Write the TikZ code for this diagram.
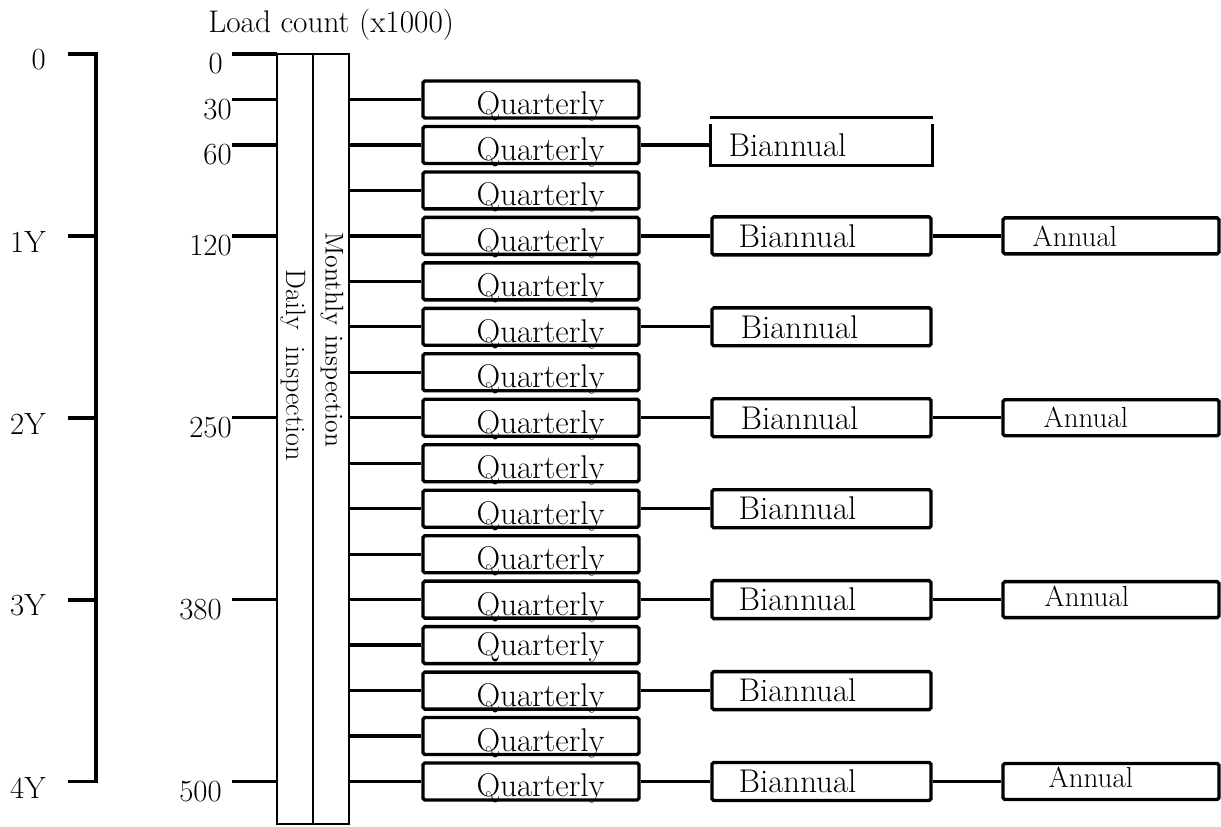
\documentclass[tikz,border=0pt]{standalone}
\usetikzlibrary{positioning}

\tikzset{
  txt/.style={font=\fontsize{18.7}{22}\selectfont, inner sep=0pt},
  num/.style={font=\fontsize{17.5}{21}\selectfont, inner sep=0pt},
  small/.style={font=\fontsize{16.5}{19}\selectfont},
  vtxt/.style={inner sep=0pt, rotate=-90},
  bar/.style={line width=2.2pt},
  link/.style={line width=1.9pt},
  col/.style={line width=1.5pt},
  quarter/.style={draw, line width=1.9pt, rounded corners=1pt, minimum width=4.32cm, minimum height=0.74cm, inner sep=0pt},
  half/.style={draw, line width=1.9pt, rounded corners=1pt, minimum width=4.38cm, minimum height=0.76cm, inner sep=0pt},
  halfopen/.style={line width=1.9pt, minimum width=4.38cm, minimum height=0.76cm, inner sep=0pt},
  annual/.style={draw, line width=1.9pt, rounded corners=1pt, minimum width=4.32cm, minimum height=0.72cm, inner sep=0pt}
}

\begin{document}
\begin{tikzpicture}[x=0.02cm, y=-0.02cm]
\useasboundingbox (0,0) rectangle (1221,826);

% time axis
\foreach \k/\lab in {0/0,4/1Y,8/2Y,12/3Y,16/4Y} {
  \pgfmathsetmacro\yy{54+45.47*\k}
  \coordinate (yl\k) at (68,\yy);
  \coordinate (yr\k) at (96,\yy);
  \node[num, anchor=east, yshift=-0.12cm] (ylab\k) at (46,\yy) {\lab};
}
\draw[bar] (yl0) -- (yr0) -- (yr16) -- (yl16);
\foreach \k in {4,8,12} \draw[bar] (yl\k) -- (yr\k);

% load count axis
\node[inner sep=0pt, font=\fontsize{17.8}{21}\selectfont, anchor=west] (title) at (208,25) {Load count (x1000)};
\foreach \k/\lab/\lx in {0/0/223, 1/30/232, 2/60/232, 4/120/232, 8/250/232, 12/380/222, 16/500/222} {
  \pgfmathsetmacro\yy{54+45.47*\k}
  \coordinate (ll\k) at (232,\yy);
  \coordinate (lr\k) at (277,\yy);
  \draw[link] (ll\k) -- (lr\k);
  \node[num, anchor=east, yshift=-0.2cm] (llab\k) at (\lx,\yy) {\lab};
}

% daily / monthly columns
\draw[col] (277,54) rectangle (313,824);
\draw[col] (313,54) rectangle (349,824);
\node[vtxt, font=\fontsize{16}{19}\selectfont] (daily) at (293,365) {Daily\hspace{0.6em}inspection};
\node[vtxt, font=\fontsize{14.6}{17}\selectfont] (monthly) at (332,340) {Monthly\hspace{0.4em}inspection};

% quarterly
\foreach \i in {1,...,16} {
  \pgfmathsetmacro\yy{54+45.47*\i}
  \coordinate (m\i) at (349,\yy);
  \node[quarter] (q\i) at (531,\yy) {};
  \draw[link] (m\i) -- (q\i.west);
  \ifnum\i=13 \def\qs{-0.036cm}\else\def\qs{-0.146cm}\fi
  \node[txt, right=1.1cm of q\i.west, yshift=\qs] (qt\i) {Quarterly};
}

% biannual
\foreach \i/\pad/\sty in {2/0.36cm/halfopen, 4/0.56cm/half, 6/0.6cm/half, 8/0.6cm/half,
                          10/0.56cm/half, 12/0.56cm/half, 14/0.56cm/half, 16/0.56cm/half} {
  \pgfmathsetmacro\yy{54+45.47*\i}
  \node[\sty] (b\i) at (821.5,\yy) {};
  \draw[link] (q\i.east) -- (b\i.west);
  \node[txt, right=\pad of b\i.west] (bt\i) {Biannual};
}
\draw[link] (b2.north west) -- (b2.south west) -- (b2.south east) -- (b2.north east);
\draw[link] ([yshift=0.13cm]b2.north west) -- ([yshift=0.13cm]b2.north east);

% annual
\foreach \i/\pad/\up in {4/0.62cm/0cm, 8/0.84cm/0cm, 12/0.86cm/0.06cm, 16/0.94cm/0.08cm} {
  \pgfmathsetmacro\yy{54+45.47*\i}
  \node[annual] (a\i) at (1111,\yy) {};
  \draw[link] (b\i.east) -- (a\i.west);
  \node[txt, small, right=\pad of a\i.west, yshift=\up] (at\i) {Annual};
}
\end{tikzpicture}
\end{document}
